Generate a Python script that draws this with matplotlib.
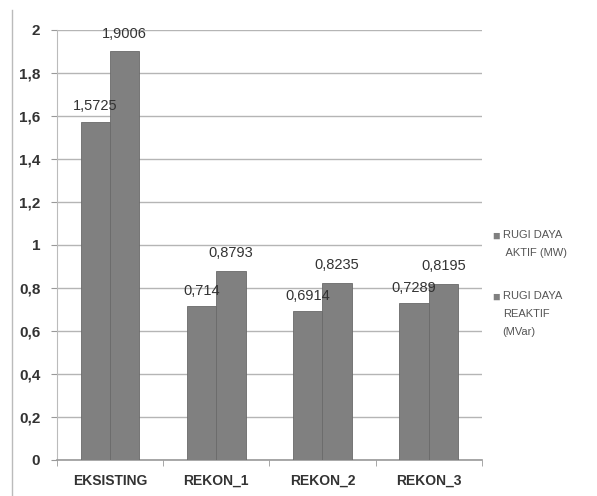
import matplotlib.pyplot as plt
import numpy as np
from matplotlib.lines import Line2D

categories = ['EKSISTING', 'REKON_1', 'REKON_2', 'REKON_3']
rugi_aktif = [1.5725, 0.714, 0.6914, 0.7289]
rugi_reaktif = [1.9006, 0.8793, 0.8235, 0.8195]
aktif_labels = ['1,5725', '0,714', '0,6914', '0,7289']
reaktif_labels = ['1,9006', '0,8793', '0,8235', '0,8195']
yticks = [0, 0.2, 0.4, 0.6, 0.8, 1, 1.2, 1.4, 1.6, 1.8, 2]
ytick_labels = ['0', '0,2', '0,4', '0,6', '0,8', '1', '1,2', '1,4', '1,6', '1,8', '2']

plt.rcParams['font.family'] = ['Liberation Sans', 'DejaVu Sans']

fig = plt.figure(figsize=(5.97, 4.96), dpi=100)
ax = fig.add_axes([0.0955, 0.0726, 0.7115, 0.867])

x = np.arange(len(categories))
w = 0.275
bar_color = '#808080'
b1 = ax.bar(x - w / 2, rugi_aktif, w, color=bar_color, edgecolor='#6a6a6a', linewidth=0.6, zorder=3)
b2 = ax.bar(x + w / 2, rugi_reaktif, w, color=bar_color, edgecolor='#6a6a6a', linewidth=0.6, zorder=3)

for rect, txt in zip(b1, aktif_labels):
    ax.text(rect.get_x() + rect.get_width() / 2, rect.get_height() + 0.04, txt,
            ha='center', va='bottom', fontsize=10.5, color='#333333', zorder=4)
for rect, txt in zip(b2, reaktif_labels):
    ax.text(rect.get_x() + rect.get_width() / 2, rect.get_height() + 0.05, txt,
            ha='center', va='bottom', fontsize=10.5, color='#333333', zorder=4)

ax.set_xlim(-0.5, len(categories) - 0.5)
ax.set_ylim(0, 2)
ax.set_yticks(yticks)
ax.set_yticklabels(ytick_labels, fontsize=11, fontweight='bold', color='#333333')
ax.set_xticks(x)
ax.set_xticklabels(categories, fontsize=10, fontweight='bold', color='#333333')
ax.set_xticks(np.arange(-0.5, len(categories)), minor=True)
ax.tick_params(axis='x', which='major', length=0, pad=10)
ax.tick_params(axis='x', which='minor', length=4, color='#999999')
ax.tick_params(axis='y', length=4, color='#999999', pad=8)

ax.grid(axis='y', color='#b5b5b5', linewidth=1, zorder=0)
for s in ['top', 'right']:
    ax.spines[s].set_visible(False)
ax.spines['left'].set_color('#bbbbbb')
ax.spines['bottom'].set_color('#999999')
ax.spines['bottom'].set_linewidth(1.2)

# thin frame line at the left edge of the chart area
fig.add_artist(Line2D([0.02, 0.02], [0.0, 0.98], color='#bbbbbb', linewidth=1))

# legend
fig.text(0.824, 0.522, '■', fontsize=9, color=bar_color, va='center')
fig.text(0.842, 0.536, 'RUGI DAYA\n AKTIF (MW)', fontsize=8, color='#555555', va='top',
         linespacing=2.0)
fig.text(0.824, 0.399, '■', fontsize=9, color=bar_color, va='center')
fig.text(0.842, 0.413, 'RUGI DAYA\nREAKTIF\n(MVar)', fontsize=8, color='#555555', va='top',
         linespacing=2.0)

fig.savefig('out.png', dpi=100)
